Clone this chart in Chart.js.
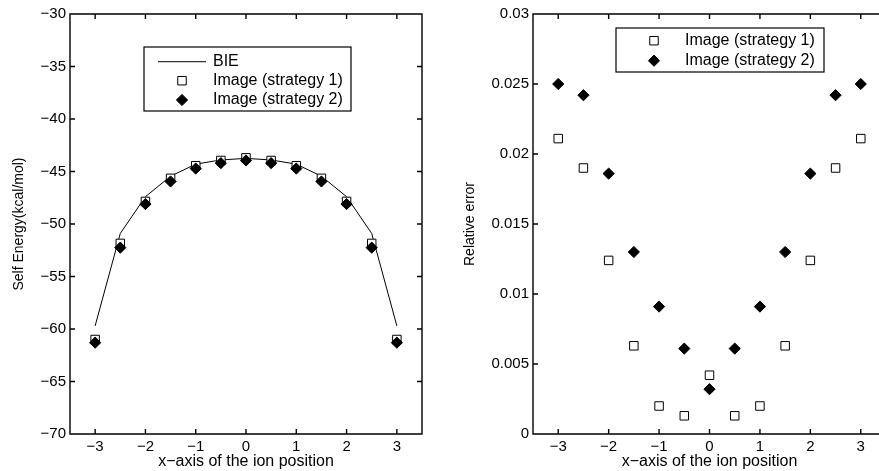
<!DOCTYPE html>
<html lang="en">
<head>
  <meta charset="utf-8">
  <title>Self energy and relative error</title>
  <style>
    html, body { margin: 0; padding: 0; background: #fff; overflow: hidden; }
    canvas { position: absolute; top: 0; }
    #energy { left: 0; }
    #error { left: 450px; }
  </style>
</head>
<body>
  <canvas id="energy" width="440" height="471"></canvas>
  <canvas id="error" width="443" height="471"></canvas>

  <script src="https://cdn.jsdelivr.net/npm/chart.js"></script>
  <script>
    // ion positions along the x-axis
    const positions = [-3, -2.5, -2, -1.5, -1, -0.5, 0, 0.5, 1, 1.5, 2, 2.5, 3];

    // self energy (kcal/mol)
    const bieEnergy = [-59.7, -50.9, -47.4, -45.45, -44.3, -43.9, -43.75, -43.9, -44.3, -45.45, -47.4, -50.9, -59.7];
    const imageEnergy1 = [-61.0, -51.85, -47.85, -45.65, -44.45, -43.95, -43.7, -43.95, -44.45, -45.65, -47.85, -51.85, -61.0];
    const imageEnergy2 = [-61.3, -52.25, -48.1, -45.95, -44.72, -44.2, -43.95, -44.2, -44.72, -45.95, -48.1, -52.25, -61.3];

    // relative error against BIE
    const imageError1 = [0.0211, 0.0190, 0.0124, 0.0063, 0.0020, 0.0013, 0.0042, 0.0013, 0.0020, 0.0063, 0.0124, 0.0190, 0.0211];
    const imageError2 = [0.0250, 0.0242, 0.0186, 0.0130, 0.0091, 0.0061, 0.0032, 0.0061, 0.0091, 0.0130, 0.0186, 0.0242, 0.0250];

    const xTicks = [-3, -2, -1, 0, 1, 2, 3];
    const energyTicks = [-70, -65, -60, -55, -50, -45, -40, -35, -30];
    const errorTicks = [0, 0.005, 0.01, 0.015, 0.02, 0.025, 0.03];
    const errorTickLabels = ['0', '0.005', '0.01', '0.015', '0.02', '0.025', '0.03'];

    const FONT = "'Liberation Sans', Arial, sans-serif";
    Chart.defaults.color = '#000';
    Chart.defaults.font.family = FONT;
    Chart.defaults.animation = false;

    const pts = ys => ys.map((y, i) => ({ x: positions[i], y }));
    const minus = v => String(v).replace('-', '\u2212');
    const fixTicks = list => scale => { scale.ticks = list.map(v => ({ value: v })); };

    // boxed axes with inward tick marks on all four sides
    const frame = {
      id: 'frame',
      beforeDatasetsDraw(chart) {
        const { ctx, chartArea: a, scales: { x, y } } = chart;
        const len = 5;
        ctx.save();
        ctx.strokeStyle = '#000';
        ctx.lineWidth = 1.4;
        ctx.beginPath();
        ctx.rect(a.left, a.top, a.right - a.left, a.bottom - a.top);
        x.ticks.forEach(t => {
          const px = x.getPixelForValue(t.value);
          ctx.moveTo(px, a.bottom); ctx.lineTo(px, a.bottom - len);
          ctx.moveTo(px, a.top); ctx.lineTo(px, a.top + len);
        });
        y.ticks.forEach(t => {
          const py = y.getPixelForValue(t.value);
          ctx.moveTo(a.left, py); ctx.lineTo(a.left + len, py);
          ctx.moveTo(a.right, py); ctx.lineTo(a.right - len, py);
        });
        ctx.stroke();
        ctx.restore();
      }
    };

    // legend drawn as a box inside the plot
    const boxLegend = {
      id: 'boxLegend',
      afterDraw(chart, args, o) {
        const { ctx } = chart;
        ctx.save();
        ctx.fillStyle = '#fff';
        ctx.fillRect(o.left, o.top, o.width, o.height);
        ctx.strokeStyle = '#000';
        ctx.lineWidth = 1.2;
        ctx.strokeRect(o.left, o.top, o.width, o.height);
        chart.data.datasets.forEach((ds, i) => {
          const yy = o.top + o.rows[i];
          if (ds.showLine !== false) {
            ctx.strokeStyle = ds.borderColor;
            ctx.lineWidth = ds.borderWidth;
            ctx.beginPath();
            ctx.moveTo(o.sampleX - 24, yy);
            ctx.lineTo(o.sampleX + 24, yy);
            ctx.stroke();
          } else {
            ctx.fillStyle = ds.backgroundColor;
            ctx.strokeStyle = ds.borderColor;
            ctx.lineWidth = ds.borderWidth;
            Chart.helpers.drawPoint(ctx, {
              pointStyle: ds.pointStyle, radius: ds.pointRadius,
              rotation: 0, borderWidth: ds.borderWidth
            }, o.sampleX, yy);
          }
          ctx.fillStyle = '#000';
          ctx.font = '16px ' + FONT;
          ctx.textBaseline = 'middle';
          ctx.fillText(ds.label, o.textX, yy);
        });
        ctx.restore();
      }
    };

    const square = (label, data) => ({
      label, data, showLine: false, order: 1,
      pointStyle: 'rect', pointRadius: 6,
      backgroundColor: '#fff', borderColor: '#000', borderWidth: 1
    });
    const diamond = (label, data) => ({
      label, data, showLine: false, order: 0,
      pointStyle: 'rectRot', pointRadius: 5.6,
      backgroundColor: '#000', borderColor: '#000', borderWidth: 1
    });

    function axes(yTicks, yFmt, yTitle, yWidth, yTitlePad) {
      return {
        x: {
          type: 'linear', min: -3.5, max: 3.5,
          afterBuildTicks: fixTicks(xTicks),
          afterFit: s => { s.height = 37; },
          grid: { display: false, drawTicks: false },
          border: { display: false },
          ticks: { font: { size: 15 }, padding: 4, callback: minus, maxRotation: 0 },
          title: {
            display: true, text: 'x\u2212axis of the ion position',
            font: { size: 16 }, padding: { top: 0, bottom: 0 }
          }
        },
        y: {
          type: 'linear', min: yTicks[0], max: yTicks[yTicks.length - 1],
          afterBuildTicks: fixTicks(yTicks),
          afterFit: s => { s.width = yWidth; },
          grid: { display: false, drawTicks: false },
          border: { display: false },
          ticks: { font: { size: 15 }, padding: 4, callback: yFmt },
          title: {
            display: true, text: yTitle,
            font: { size: 14 }, padding: { top: yTitlePad, bottom: 0 }
          }
        }
      };
    }

    new Chart(document.getElementById('energy'), {
      type: 'line',
      data: {
        datasets: [
          { label: 'BIE', data: pts(bieEnergy), order: 2, borderColor: '#000', borderWidth: 1, pointRadius: 0, fill: false },
          square('Image (strategy 1)', pts(imageEnergy1)),
          diamond('Image (strategy 2)', pts(imageEnergy2))
        ]
      },
      options: {
        responsive: false,
        layout: { padding: { top: 14, right: 18, left: 0, bottom: 0 } },
        scales: axes(energyTicks, minus, 'Self Energy(kcal/mol)', 70, 11),
        plugins: {
          legend: { display: false }, tooltip: { enabled: false },
          boxLegend: { left: 144, top: 47, width: 207, height: 64, rows: [14.7, 33.7, 53], sampleX: 182, textX: 213 }
        }
      },
      plugins: [frame, boxLegend]
    });

    // this panel runs past the right edge of the page, like its source figure
    new Chart(document.getElementById('error'), {
      type: 'line',
      data: {
        datasets: [
          square('Image (strategy 1)', pts(imageError1)),
          diamond('Image (strategy 2)', pts(imageError2))
        ]
      },
      options: {
        responsive: false,
        layout: { padding: { top: 14, right: 2, left: 0, bottom: 0 } },
        scales: axes(errorTicks, (v, i) => errorTickLabels[i], 'Relative error', 83, 12),
        plugins: {
          legend: { display: false }, tooltip: { enabled: false },
          boxLegend: { left: 166, top: 28, width: 208, height: 44, rows: [12.7, 32.7], sampleX: 204, textX: 235 }
        }
      },
      plugins: [frame, boxLegend]
    });
  </script>
</body>
</html>
